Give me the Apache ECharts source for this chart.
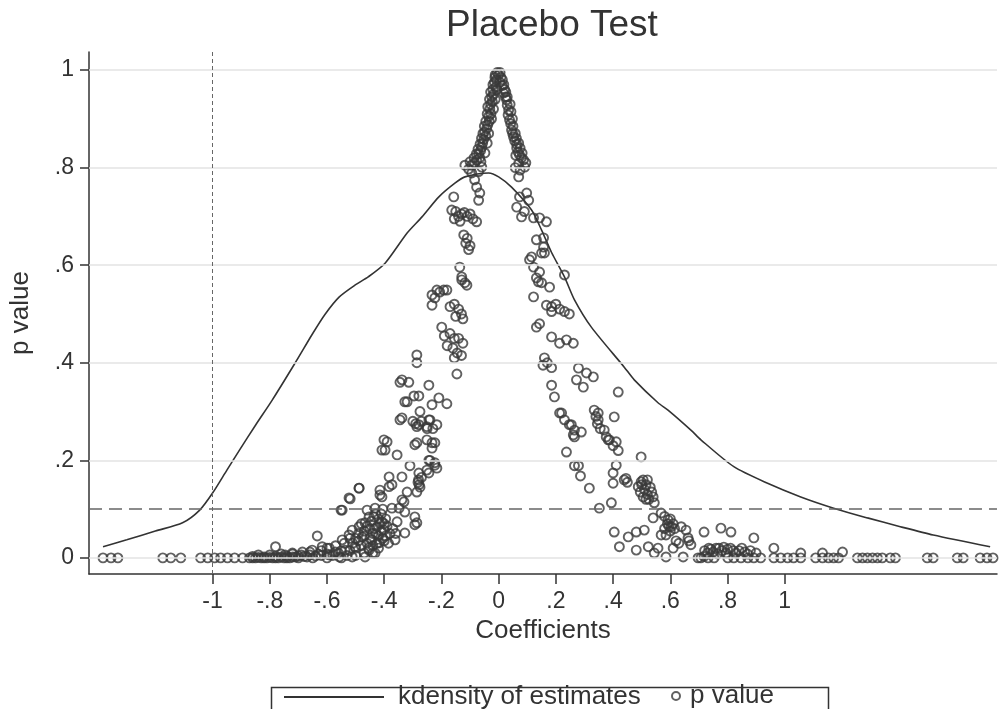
<!DOCTYPE html>
<html>
<head>
<meta charset="utf-8">
<script src="https://cdn.jsdelivr.net/npm/echarts@6/dist/echarts.min.js"></script>
<style>
html,body{margin:0;padding:0;background:#fff;}
#chart{width:999px;height:709px;}
</style>
</head>
<body>
<div id="chart"></div>
<script>
// ---- Data ----
const titleText = 'Placebo Test';
const xTickValues = [-1, -0.8, -0.6, -0.4, -0.2, 0, 0.2, 0.4, 0.6, 0.8, 1];
const yTickValues = [0, 0.2, 0.4, 0.6, 0.8, 1];
const pThreshold = 0.1;
const trueCoef = -1;

// kernel density of the placebo estimates
const kdensity = [
  [-1.383,0.023],[-1.30,0.037],[-1.20,0.055],[-1.105,0.072],[-1.045,0.098],[-1.0,0.133],
  [-0.95,0.18],[-0.906,0.221],[-0.85,0.272],[-0.791,0.324],[-0.711,0.40],[-0.65,0.46],
  [-0.606,0.50],[-0.557,0.535],[-0.50,0.56],[-0.456,0.576],[-0.397,0.604],[-0.32,0.666],
  [-0.268,0.699],[-0.209,0.74],[-0.153,0.768],[-0.118,0.781],[-0.035,0.789],[0,0.781],
  [0.045,0.76],[0.115,0.713],[0.15,0.672],[0.185,0.626],[0.23,0.576],[0.265,0.529],
  [0.324,0.473],[0.439,0.391],[0.474,0.365],[0.557,0.318],[0.592,0.303],[0.672,0.262],
  [0.707,0.242],[0.822,0.187],[0.94,0.153],[1.056,0.125],[1.171,0.102],[1.289,0.082],
  [1.404,0.064],[1.519,0.047],[1.718,0.023]
];

// p values: points on p = 0 (left tail)
const pZeroLeft = [
  [-1.383,0],[-1.355,0],[-1.331,0],[-1.174,0],[-1.146,0],[-1.111,0],[-1.042,0],[-1.017,0],
  [-0.993,0],[-0.972,0],[-0.948,0],[-0.923,0],[-0.895,0],[-0.871,0],[-0.85,0],[-0.83,0],
  [-0.81,0],[-0.79,0],[-0.77,0],[-0.75,0],[-0.73,0]
];
// p values: points on p = 0 (right tail)
const pZeroRight = [
  [0.697,0],[0.707,0],[0.732,0],[0.753,0],[0.801,0],[0.822,0],[0.847,0],[0.871,0],[0.892,0],
  [0.916,0],[0.962,0],[0.986,0],[1.010,0],[1.031,0],[1.056,0],[1.108,0],[1.132,0],[1.153,0],
  [1.171,0],[1.188,0],[1.254,0],[1.272,0],[1.289,0],[1.307,0],[1.324,0],[1.341,0],[1.369,0],
  [1.387,0],[1.498,0],[1.519,0],[1.603,0],[1.624,0],[1.683,0],[1.707,0],[1.728,0]
];
// p values near the peak
const pPeak = [
  [-0.005,0.995],[-0.012,0.99],[-0.008,0.98],[-0.015,0.975],[-0.01,0.965],[-0.02,0.96],
  [-0.018,0.95],[-0.024,0.945],[-0.022,0.935],[-0.028,0.93],[-0.031,0.92],[-0.027,0.91],
  [-0.035,0.905],[-0.033,0.895],[-0.038,0.888],[-0.042,0.88],[-0.049,0.873],[-0.045,0.865],
  [-0.052,0.858],[-0.056,0.85],[-0.059,0.842],[-0.063,0.835],[-0.07,0.828],[-0.066,0.82],
  [-0.077,0.815],[-0.084,0.81],[-0.095,0.805],[-0.118,0.805],[-0.105,0.797],[-0.059,0.801],
  [-0.094,0.789],[-0.07,0.792],[-0.084,0.775],[-0.077,0.76],[-0.066,0.748],[-0.07,0.733],
  [0.0,0.99],[0.008,0.985],[0.004,0.975],[0.012,0.968],[0.017,0.953],[0.021,0.96],
  [0.024,0.945],[0.028,0.939],[0.03,0.928],[0.035,0.918],[0.033,0.908],[0.038,0.898],
  [0.042,0.89],[0.045,0.877],[0.049,0.87],[0.052,0.863],[0.056,0.855],[0.063,0.848],
  [0.063,0.84],[0.068,0.832],[0.073,0.826],[0.08,0.82],[0.087,0.816],[0.07,0.808],
  [0.091,0.801],[0.075,0.795],[0.07,0.781],
  [-0.013,0.985],[-0.02,0.97],[-0.028,0.955],[-0.032,0.94],[-0.038,0.925],[-0.04,0.91],
  [-0.045,0.895],[-0.05,0.885],[-0.055,0.87],[-0.06,0.86],[-0.065,0.848],[-0.072,0.838],
  [-0.078,0.828],[-0.086,0.82],[-0.1,0.812],[-0.062,0.812],[-0.048,0.83],[-0.04,0.85],
  [-0.035,0.87],[-0.025,0.9],[-0.018,0.92],[-0.012,0.94],[-0.006,0.96],
  [0.005,0.995],[0.013,0.98],[0.018,0.97],[0.025,0.955],[0.03,0.945],[0.04,0.93],
  [0.043,0.915],[0.048,0.9],[0.05,0.885],[0.058,0.87],[0.062,0.86],[0.07,0.85],
  [0.075,0.84],[0.082,0.83],[0.095,0.81],[0.06,0.825],[0.058,0.8]
];
// p values, right branch
const pRight = [
  [0.098,0.748],[0.073,0.74],[0.105,0.733],[0.063,0.719],[0.08,0.699],[0.122,0.697],
  [0.143,0.697],[0.167,0.689],[0.09,0.71],[0.132,0.652],[0.157,0.656],[0.157,0.637],
  [0.16,0.625],[0.108,0.611],[0.122,0.596],[0.115,0.617],[0.15,0.625],[0.143,0.586],
  [0.23,0.58],[0.132,0.574],[0.15,0.564],[0.178,0.555],[0.139,0.566],[0.122,0.535],
  [0.167,0.518],[0.185,0.515],[0.2,0.52],[0.213,0.51],[0.23,0.505],[0.247,0.5],[0.185,0.505],
  [0.132,0.473],[0.143,0.48],[0.185,0.453],[0.213,0.44],[0.237,0.447],[0.261,0.44],
  [0.16,0.41],[0.17,0.4],[0.155,0.395],[0.185,0.39],[0.279,0.389],[0.307,0.379],[0.331,0.371],
  [0.272,0.365],[0.296,0.35],[0.185,0.354],[0.195,0.33],[0.418,0.34],[0.213,0.297],
  [0.23,0.283],[0.247,0.273],[0.22,0.297],[0.254,0.273],[0.265,0.262],[0.348,0.297],
  [0.348,0.283],[0.369,0.262],[0.404,0.289],[0.289,0.258],[0.261,0.252],[0.383,0.242],
  [0.411,0.238],[0.265,0.248],[0.334,0.303],[0.34,0.29],[0.345,0.275],[0.355,0.265],
  [0.376,0.248],[0.387,0.242],[0.4,0.23],[0.418,0.22],[0.237,0.217],[0.265,0.189],
  [0.279,0.189],[0.286,0.168],[0.317,0.143],[0.352,0.102],[0.411,0.19],[0.4,0.174],
  [0.4,0.153],[0.394,0.113],[0.439,0.16],[0.445,0.163],[0.45,0.155],[0.498,0.207],
  [0.498,0.156],[0.488,0.146],[0.495,0.135],[0.51,0.14],[0.52,0.13],[0.53,0.145],
  [0.54,0.125],[0.505,0.125],[0.544,0.113],[0.54,0.082],[0.568,0.092],[0.592,0.078],
  [0.603,0.064],[0.585,0.047],[0.568,0.047],[0.58,0.06],[0.595,0.065],[0.638,0.064],
  [0.655,0.057],[0.662,0.041],[0.672,0.027],[0.665,0.035],[0.718,0.053],[0.404,0.053],
  [0.453,0.043],[0.481,0.053],[0.509,0.057],[0.422,0.023],[0.481,0.016],[0.523,0.023],
  [0.544,0.01],[0.557,0.02],[0.585,0.002],[0.645,0.002],[0.777,0.061],[0.812,0.053],
  [0.892,0.041],[0.742,0.018],[0.77,0.02],[0.787,0.022],[0.8,0.018],[0.82,0.015],
  [0.84,0.015],[0.86,0.012],[0.88,0.015],[0.9,0.01],[0.962,0.02],[1.056,0.01],
  [1.132,0.01],[1.202,0.012],[0.718,0.003],[0.73,0.01],
  [0.5,0.15],[0.505,0.16],[0.515,0.15],[0.52,0.16],[0.525,0.12],[0.535,0.135],[0.515,0.12],
  [0.59,0.07],[0.6,0.08],[0.61,0.07],[0.6,0.055],[0.615,0.06],[0.58,0.085],[0.72,0.015],
  [0.735,0.02],[0.75,0.012],[0.76,0.02],[0.765,0.008],[0.78,0.015],[0.795,0.01],[0.81,0.02],
  [0.83,0.01],[0.85,0.02],[0.87,0.008],[0.61,0.02],[0.62,0.035],[0.63,0.03]
];
// p values, left branch
const pLeft = [
  [-0.157,0.74],[-0.164,0.713],[-0.15,0.71],[-0.14,0.7],[-0.13,0.705],[-0.12,0.708],
  [-0.11,0.7],[-0.1,0.705],[-0.09,0.695],[-0.077,0.689],[-0.155,0.695],[-0.135,0.69],
  [-0.122,0.662],[-0.11,0.655],[-0.115,0.645],[-0.1,0.64],[-0.105,0.632],[-0.136,0.596],
  [-0.129,0.576],[-0.118,0.564],[-0.111,0.559],[-0.129,0.57],[-0.233,0.518],[-0.223,0.533],
  [-0.206,0.545],[-0.181,0.549],[-0.233,0.539],[-0.216,0.549],[-0.192,0.549],[-0.17,0.515],
  [-0.155,0.52],[-0.14,0.51],[-0.13,0.5],[-0.125,0.49],[-0.15,0.495],[-0.199,0.473],
  [-0.19,0.455],[-0.17,0.46],[-0.155,0.45],[-0.14,0.45],[-0.125,0.44],[-0.18,0.435],
  [-0.16,0.43],[-0.145,0.42],[-0.13,0.415],[-0.155,0.41],[-0.286,0.416],[-0.286,0.40],
  [-0.146,0.377],[-0.345,0.36],[-0.314,0.36],[-0.244,0.354],[-0.338,0.365],[-0.328,0.32],
  [-0.296,0.332],[-0.279,0.332],[-0.233,0.314],[-0.209,0.328],[-0.181,0.316],[-0.275,0.3],
  [-0.345,0.283],[-0.338,0.287],[-0.279,0.273],[-0.24,0.283],[-0.216,0.273],[-0.25,0.265],
  [-0.23,0.265],[-0.39,0.238],[-0.286,0.236],[-0.233,0.236],[-0.408,0.221],[-0.355,0.211],
  [-0.383,0.166],[-0.373,0.15],[-0.338,0.166],[-0.31,0.189],[-0.415,0.139],[-0.408,0.125],
  [-0.488,0.143],[-0.519,0.121],[-0.547,0.098],[-0.32,0.135],[-0.286,0.135],[-0.338,0.119],
  [-0.293,0.084],[-0.286,0.072],[-0.328,0.051],[-0.362,0.037],[-0.634,0.045],[-0.78,0.023],
  [-0.28,0.16],[-0.278,0.15],[-0.275,0.145],[-0.293,0.232],[-0.251,0.242],[-0.244,0.2],
  [-0.223,0.195],[-0.216,0.184],[-0.244,0.174],[-0.32,0.32],[-0.244,0.283],[-0.251,0.269],
  [-0.286,0.269],[-0.373,0.102],[-0.348,0.102],[-0.331,0.115],[-0.328,0.094],[-0.293,0.068],
  [-0.355,0.074],[-0.279,0.174],[-0.251,0.18],[-0.24,0.2],[-0.223,0.19],[-0.233,0.225],
  [-0.223,0.236],[-0.401,0.242],[-0.397,0.221],[-0.415,0.129],[-0.383,0.146],
  [-0.282,0.155],[-0.27,0.165],[-0.3,0.28],[-0.29,0.275],[-0.27,0.28]
];
// p values, lower-left cluster
const pLowLeft = [
  [-0.551,0.098],[-0.523,0.123],[-0.488,0.143],[-0.512,0.057],[-0.523,0.047],[-0.547,0.037],
  [-0.488,0.064],[-0.467,0.072],[-0.453,0.084],[-0.46,0.098],[-0.432,0.102],[-0.436,0.084],
  [-0.425,0.064],[-0.477,0.043],[-0.443,0.037],[-0.418,0.031],[-0.401,0.057],[-0.408,0.074],
  [-0.502,0.023],[-0.537,0.016],[-0.571,0.012],[-0.592,0.02],[-0.617,0.023],[-0.652,0.016],
  [-0.686,0.012],[-0.721,0.01],[-0.746,0.006],[-0.453,0.016],[-0.432,0.01],[-0.467,0.002],
  [-0.512,0.002],[-0.557,0.002],[-0.592,0.006],[-0.44,0.05],[-0.45,0.06],[-0.47,0.055],
  [-0.49,0.05],[-0.5,0.04],[-0.46,0.03],[-0.42,0.045],[-0.41,0.09],[-0.395,0.08],
  [-0.39,0.065],[-0.38,0.05],[-0.4,0.035],[-0.42,0.02],[-0.44,0.025],[-0.48,0.025],
  [-0.52,0.015],[-0.56,0.01],[-0.6,0.008],[-0.62,0.005],[-0.64,0.004],[-0.66,0.006],
  [-0.68,0.003],[-0.7,0.004],[-0.72,0.002],[-0.74,0.003],[-0.76,0.002],[-0.78,0.003],
  [-0.8,0.001],[-0.82,0.002],[-0.84,0.001],[-0.86,0.0],[-0.7,0.0],[-0.65,0.0],[-0.6,0.0],
  [-0.55,0.0],[-0.5,0.005],[-0.47,0.01],[-0.435,0.06],[-0.415,0.07],[-0.405,0.1],[-0.43,0.09],
  [-0.86,0.003],[-0.84,0.006],[-0.82,0.0],[-0.8,0.006],[-0.78,0.0],[-0.76,0.008],[-0.74,0.0],
  [-0.72,0.008],[-0.71,0.002],[-0.69,0.006],[-0.67,0.002],[-0.66,0.012],[-0.63,0.008],
  [-0.62,0.015],[-0.6,0.02],[-0.58,0.005],[-0.57,0.025],[-0.55,0.015],[-0.54,0.03],
  [-0.53,0.005],[-0.52,0.04],[-0.51,0.03],[-0.5,0.02],[-0.49,0.035],[-0.48,0.07],
  [-0.47,0.045],[-0.46,0.065],[-0.455,0.02],[-0.45,0.04],[-0.445,0.075],[-0.44,0.01],
  [-0.43,0.05],[-0.425,0.03],[-0.42,0.08],[-0.41,0.055],[-0.405,0.04],[-0.4,0.07],
  [-0.395,0.045],[-0.385,0.03],[-0.37,0.06],[-0.36,0.05]
];

const pValues = [].concat(pZeroLeft, pLowLeft, pLeft, pPeak, pRight, pZeroRight);

// ---- Chart ----
const FONT = "'Liberation Sans', Arial, Helvetica, sans-serif";
const TXT = '#333333';
const fmt = v => {
  const s = String(Math.round(v * 100) / 100);
  return s.replace(/^(-?)0\./, '$1.');
};

const chart = echarts.init(document.getElementById('chart'), null, {renderer: 'canvas'});
chart.setOption({
  backgroundColor: '#ffffff',
  animation: false,
  textStyle: {fontFamily: FONT},
  title: {
    text: titleText,
    left: 441, top: 2,
    textStyle: {fontFamily: FONT, fontSize: 37, fontWeight: 'normal', color: TXT}
  },
  grid: {left: 86, top: 52, right: 2, bottom: 135, containLabel: false},
  xAxis: {
    type: 'value', min: -1.432, max: 1.742,
    name: 'Coefficients', nameLocation: 'middle', nameGap: 44,
    nameTextStyle: {fontFamily: FONT, fontSize: 26, color: TXT},
    axisLine: {show: true, onZero: false, lineStyle: {color: '#333', width: 1.5}},
    axisTick: {show: true, length: 10, customValues: xTickValues, lineStyle: {color: '#333', width: 1.5}},
    axisLabel: {customValues: xTickValues, formatter: fmt, fontSize: 23, color: TXT, margin: 16, fontFamily: FONT},
    splitLine: {show: false}
  },
  yAxis: {
    type: 'value', min: -0.033, max: 1.037,
    name: 'p value', nameLocation: 'middle', nameGap: 55, nameRotate: 90,
    nameTextStyle: {fontFamily: FONT, fontSize: 26, color: TXT},
    axisLine: {show: true, onZero: false, lineStyle: {color: '#333', width: 1.5}},
    axisTick: {show: true, length: 9, customValues: yTickValues, lineStyle: {color: '#333', width: 1.5}},
    axisLabel: {customValues: yTickValues, formatter: fmt, fontSize: 23, color: TXT, margin: 15, fontFamily: FONT},
    splitLine: {show: false}
  },
  legend: [
    {
      data: [{name: 'kdensity of estimates', icon: 'rect'}],
      left: 284, top: 684, itemWidth: 100, itemHeight: 2, padding: 0,
      textStyle: {fontFamily: FONT, fontSize: 26, color: TXT, padding: [0, 0, 0, 9]}
    },
    {
      data: ['p value'],
      left: 671, top: 683, itemWidth: 8, itemHeight: 8, padding: 0,
      textStyle: {fontFamily: FONT, fontSize: 26, color: TXT, padding: [0, 0, 0, 5]}
    }
  ],
  graphic: [
    {type: 'rect', left: 269, top: 685, shape: {width: 557, height: 60},
     style: {fill: 'none', stroke: '#333', lineWidth: 1.5}, z: 0}
  ],
  series: [
    {
      name: 'grid', type: 'line', data: [], silent: true, z: 1,
      markLine: {
        silent: true, symbol: 'none', label: {show: false},
        lineStyle: {color: '#e3e3e3', width: 1.5, type: 'solid'},
        data: yTickValues.map(v => ({yAxis: v}))
      }
    },
    {
      name: 'refs', type: 'line', data: [], silent: true, z: 2,
      markLine: {
        silent: true, symbol: 'none', label: {show: false},
        data: [
          {yAxis: pThreshold, lineStyle: {color: '#666', width: 1.5, type: [13, 7]}},
          {xAxis: trueCoef, lineStyle: {color: '#666', width: 1, type: [4, 3]}}
        ]
      }
    },
    {
      name: 'kdensity of estimates', type: 'line', data: kdensity, symbol: 'none',
      smooth: 0.25, z: 3,
      lineStyle: {color: '#333', width: 1.6},
      itemStyle: {color: '#333'}
    },
    {
      name: 'p value', type: 'scatter', data: pValues, symbol: 'circle', symbolSize: 9, z: 4,
      itemStyle: {color: 'rgba(0,0,0,0)', borderColor: '#3a3a3a', borderWidth: 1.9}
    }
  ]
});
</script>
</body>
</html>
